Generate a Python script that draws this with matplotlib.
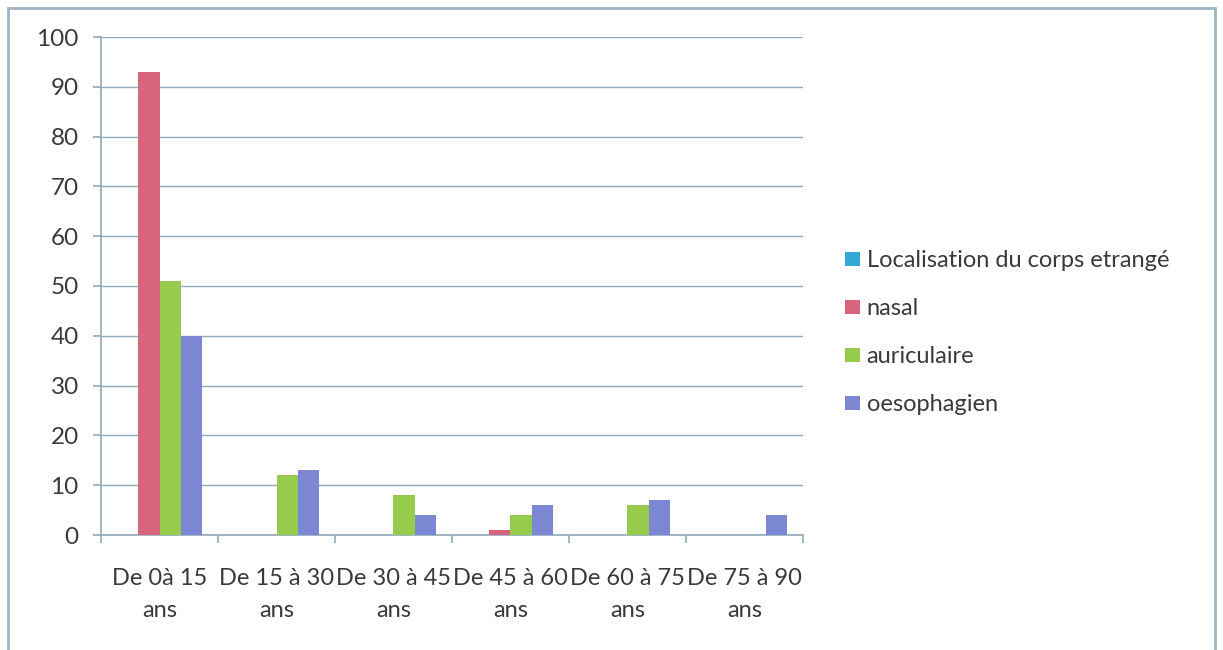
import numpy as np
import matplotlib
matplotlib.use("Agg")
import matplotlib.pyplot as plt
from matplotlib.patches import Rectangle

plt.rcParams['font.family'] = ['Lato', 'DejaVu Sans']

categories = ["De 0à 15\nans", "De 15 à 30\nans", "De 30 à 45\nans",
              "De 45 à 60\nans", "De 60 à 75\nans", "De 75 à 90\nans"]
series_names = ["Localisation du corps etrangé", "nasal", "auriculaire", "oesophagien"]
localisation = [0, 0, 0, 0, 0, 0]
nasal = [93, 0, 0, 1, 0, 0]
auriculaire = [51, 12, 8, 4, 6, 0]
oesophagien = [40, 13, 4, 6, 7, 4]
colors = ["#35A9D6", "#D9657C", "#96CB4C", "#7C87D4"]

grid_col = "#8FA9BD"
text_col = "#3A3A3A"

fig = plt.figure(figsize=(12.23, 6.5), dpi=100)
fig.patches.append(Rectangle((8 / 1223, -0.01), 1207 / 1223, 1 - 8 / 650 + 0.01,
                             transform=fig.transFigure, fill=False,
                             edgecolor="#9DB3C4", linewidth=2))

ax = fig.add_axes([101 / 1223, 115 / 650, 702 / 1223, 498 / 650])

x = np.arange(len(categories))
w = 0.18
for i, (vals, name) in enumerate(zip([localisation, nasal, auriculaire, oesophagien], series_names)):
    ax.bar(x + (i - 1.5) * w, vals, width=w, color=colors[i], label=name, zorder=3)

ax.set_xlim(-0.5, len(categories) - 0.5)
ax.set_ylim(0, 100)
ax.set_yticks(range(0, 101, 10))
ax.yaxis.grid(True, color=grid_col, linewidth=1)
ax.set_axisbelow(True)

for s in ["top", "right"]:
    ax.spines[s].set_visible(False)
for s in ["left", "bottom"]:
    ax.spines[s].set_color(grid_col)
    ax.spines[s].set_linewidth(1.2)

# category labels sit between the boundary ticks
ax.set_xticks(np.arange(-0.5, len(categories), 1.0))
ax.set_xticklabels([])
ax.set_xticks(x, minor=True)
ax.set_xticklabels(categories, minor=True, fontsize=17, color=text_col, linespacing=1.6)
ax.tick_params(axis="x", which="minor", length=0, pad=24)
ax.tick_params(axis="x", which="major", length=6, color=grid_col, width=1.2)
ax.tick_params(axis="y", length=6, color=grid_col, width=1.2, labelsize=17.5,
               labelcolor=text_col, pad=10)

leg = ax.legend(loc="upper left", bbox_to_anchor=((845 - 101) / 702, 1 - (250 - 37) / 498),
                frameon=False, fontsize=17, handlelength=0.62, handleheight=0.55,
                handletextpad=0.3, labelspacing=1.15, labelcolor=text_col,
                borderaxespad=0, borderpad=0)

fig.savefig("out.png", dpi=100, facecolor="white")
